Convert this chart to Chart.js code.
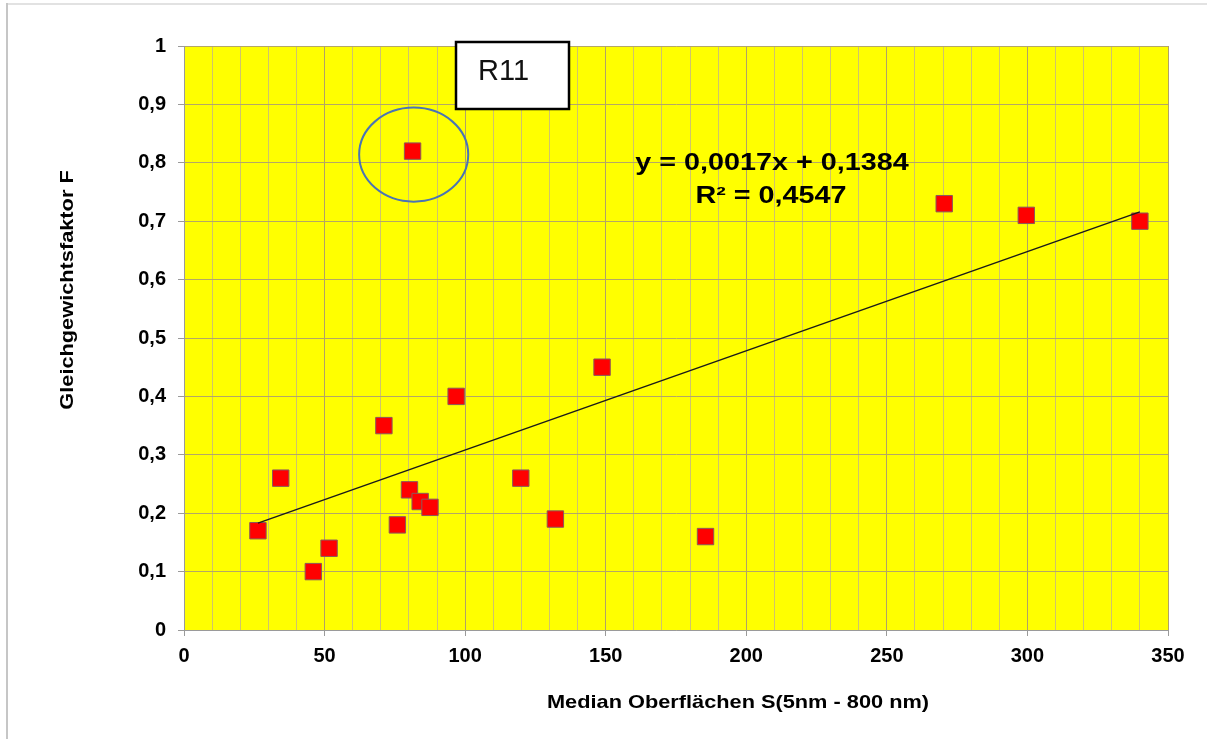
<!DOCTYPE html>
<html>
<head>
<meta charset="utf-8">
<script src="https://cdn.jsdelivr.net/npm/chart.js@4.4.1/dist/chart.umd.min.js"></script>
<style>
  html, body { margin: 0; padding: 0; background: #ffffff; }
  #wrap { position: relative; width: 1207px; height: 739px; }
</style>
</head>
<body>
<div id="wrap"><canvas id="c"></canvas></div>
<script>
// ---- data ----
const xValues = [26.3, 34.4, 46.0, 51.6, 71.1, 75.9, 80.2, 84.0, 87.5, 81.3, 96.8, 119.8, 132.1, 148.7, 185.5, 270.4, 299.6, 340.0];
const yValues = [0.17, 0.26, 0.10, 0.14, 0.35, 0.18, 0.24, 0.22, 0.21, 0.82, 0.40, 0.26, 0.19, 0.45, 0.16, 0.73, 0.71, 0.70];
const trendX = [26.3, 340.0];
const trendY = [0.183, 0.716];
const xTickLabels = [0, 50, 100, 150, 200, 250, 300, 350];
const yTickLabels = ['0', '0,1', '0,2', '0,3', '0,4', '0,5', '0,6', '0,7', '0,8', '0,9', '1'];
const equationLines = ['y = 0,0017x + 0,1384', 'R\u00B2 = 0,4547'];
const boxLabel = 'R11';
const xTitle = 'Median Oberfl\u00E4chen S(5nm - 800 nm)';
const yTitle = 'Gleichgewichtsfaktor F';

const FONT = '"Liberation Sans", Arial, sans-serif';

const scatterData = xValues.map((x, i) => ({ x: x, y: yValues[i] }));
const trendData = trendX.map((x, i) => ({ x: x, y: trendY[i] }));

const decorPlugin = {
  id: 'decor',
  beforeDraw(chart) {
    const { ctx, chartArea: a } = chart;
    ctx.save();
    // outer frame lines
    ctx.fillStyle = '#e2e2e2';
    ctx.fillRect(6, 3, 1201, 2);
    ctx.fillStyle = '#c6c6c6';
    ctx.fillRect(6, 3, 2, 736);
    // plot background
    ctx.fillStyle = '#ffff00';
    ctx.fillRect(a.left, a.top, a.right - a.left, a.bottom - a.top);
    ctx.restore();
  },
  afterDraw(chart) {
    const { ctx } = chart;
    const xs = chart.scales.x, ys = chart.scales.y;
    ctx.save();
    // ellipse around outlier
    const cx = xs.getPixelForValue(81.7), cy = ys.getPixelForValue(0.814);
    const rx = xs.getPixelForValue(81.7 + 19.4) - cx;
    const ry = cy - ys.getPixelForValue(0.814 + 0.0805);
    ctx.beginPath();
    ctx.ellipse(cx, cy, rx, ry, 0, 0, Math.PI * 2);
    ctx.strokeStyle = '#4a74b4';
    ctx.lineWidth = 2;
    ctx.stroke();

    // R11 box
    ctx.fillStyle = '#ffffff';
    ctx.fillRect(456, 42, 113, 67);
    ctx.strokeStyle = '#000000';
    ctx.lineWidth = 2.5;
    ctx.strokeRect(456, 42, 113, 67);
    ctx.fillStyle = '#111111';
    ctx.font = '29px ' + FONT;
    ctx.textAlign = 'left';
    ctx.textBaseline = 'alphabetic';
    ctx.fillText(boxLabel, 478, 80);

    // equation text (stretched horizontally like the reference)
    ctx.font = 'bold 23px ' + FONT;
    ctx.textAlign = 'center';
    ctx.fillStyle = '#000000';
    const eqPos = [[772, 170], [771, 203]];
    equationLines.forEach((t, i) => {
      ctx.save();
      ctx.translate(eqPos[i][0], eqPos[i][1]);
      ctx.scale(1.25, 1);
      ctx.fillText(t, 0, 0);
      ctx.restore();
    });

    // axis titles
    ctx.font = 'bold 18.6px ' + FONT;
    ctx.fillStyle = '#000000';
    ctx.save();
    ctx.translate(738, 708);
    ctx.scale(1.17, 1);
    ctx.fillText(xTitle, 0, 0);
    ctx.restore();

    ctx.save();
    ctx.translate(73, 290);
    ctx.rotate(-Math.PI / 2);
    ctx.scale(1.17, 1);
    ctx.fillText(yTitle, 0, 0);
    ctx.restore();

    ctx.restore();
  }
};

const isMajorX = v => Math.abs(v % 50) < 1e-6;

new Chart(document.getElementById('c'), {
  type: 'scatter',
  data: {
    datasets: [
      {
        type: 'line',
        data: trendData,
        borderColor: '#1a1a1a',
        borderWidth: 1.5,
        pointRadius: 0,
        fill: false,
        order: 1
      },
      {
        type: 'scatter',
        data: scatterData,
        pointStyle: 'rect',
        pointRadius: 11.6,
        backgroundColor: '#ff0000',
        borderColor: '#8a5a5a',
        borderWidth: 1,
        order: 2
      }
    ]
  },
  options: {
    responsive: true,
    maintainAspectRatio: false,
    animation: false,
    layout: { padding: { top: 46, right: 39, bottom: 0, left: 0 } },
    plugins: { legend: { display: false }, tooltip: { enabled: false } },
    scales: {
      x: {
        type: 'linear',
        min: 0,
        max: 350,
        afterFit: s => { s.height = 109; },
        afterBuildTicks: s => {
          const t = [];
          for (let v = 0; v <= 350; v += 10) t.push({ value: v });
          s.ticks = t;
        },
        ticks: {
          autoSkip: false,
          maxRotation: 0,
          padding: 8,
          color: '#000000',
          font: { family: FONT, size: 20, weight: 'bold' },
          callback: v => (isMajorX(v) && xTickLabels.includes(v)) ? String(v) : ''
        },
        grid: {
          color: c => (c.tick && isMajorX(c.tick.value)) ? '#b0a266' : '#cfc36a',
          tickColor: c => (c.tick && isMajorX(c.tick.value)) ? '#9a9a9a' : 'rgba(0,0,0,0)',
          tickLength: 6,
          lineWidth: 1
        },
        border: { color: '#9a9a9a', width: 1 }
      },
      y: {
        type: 'linear',
        min: 0,
        max: 1,
        afterFit: s => { s.width = 184; },
        afterBuildTicks: s => {
          s.ticks = yTickLabels.map((_, i) => ({ value: i / 10 }));
        },
        ticks: {
          padding: 12,
          color: '#000000',
          font: { family: FONT, size: 20, weight: 'bold' },
          callback: (v) => yTickLabels[Math.round(v * 10)]
        },
        grid: {
          color: '#b4a766',
          tickColor: '#9a9a9a',
          tickLength: 6,
          lineWidth: 1
        },
        border: { color: '#9a9a9a', width: 1 }
      }
    }
  },
  plugins: [decorPlugin]
});
</script>
</body>
</html>
